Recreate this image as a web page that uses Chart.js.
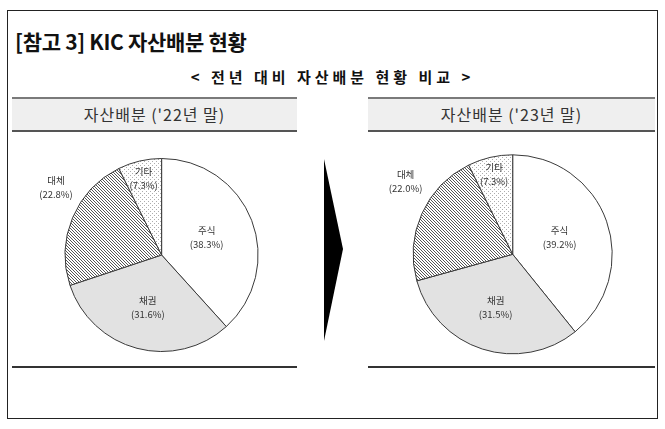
<!DOCTYPE html>
<html>
<head>
<meta charset="utf-8">
<script src="https://cdn.jsdelivr.net/npm/chart.js@4"></script>
<style>
  body { margin: 0; background: #fff; font-family: "Noto Sans CJK KR", sans-serif; }
  #page { position: relative; width: 665px; height: 429px; overflow: hidden; }
  .frame { position: absolute; left: 7px; top: 10px; width: 649px; height: 407px; border: 1.5px solid #222; }
  .title { position: absolute; left: 15px; top: 26px; font-size: 21px; font-weight: bold; color: #111; letter-spacing: -0.3px; }
  .subtitle { position: absolute; left: 0; width: 665px; top: 66px; text-align: center; font-size: 15px; font-weight: bold; color: #111; letter-spacing: 4px; }
  .band { position: absolute; top: 97px; height: 31px; background: #efefef; border-top: 2px solid #7a7a7a; border-bottom: 2px solid #555;
          text-align: center; line-height: 31px; font-size: 16px; color: #333; letter-spacing: 1px; white-space: pre; }
  .rule { position: absolute; top: 366px; height: 2px; background: #333; }
  canvas { position: absolute; }
  #arrow { position: absolute; left: 318px; top: 155px; }
</style>
</head>
<body>
<div id="page">
  <div class="frame"></div>
  <div class="title">[참고 3] KIC 자산배분 현황</div>
  <div class="subtitle">&lt; 전년 대비 자산배분 현황 비교 &gt;</div>
  <div class="band" style="left:12px;width:285px">자산배분 ('22년 말)</div>
  <div class="band" style="left:368px;width:287px">자산배분 ('23년 말)</div>
  <div class="rule" style="left:12px;width:285px"></div>
  <div class="rule" style="left:368px;width:287px"></div>
  <svg id="arrow" width="30" height="190"><polygon points="6,4 25,94 6,186" fill="#000"/></svg>
  <div style="position:absolute;left:20px;top:145px;width:280px;height:220px"><canvas id="pie22"></canvas></div>
  <div style="position:absolute;left:370px;top:145px;width:280px;height:220px"><canvas id="pie23"></canvas></div>
</div>
<script>
const categories = ['주식', '채권', '대체', '기타'];
const share2022 = [38.3, 31.6, 22.8, 7.3];
const share2023 = [39.2, 31.5, 22.0, 7.3];

// label placement per category: distance from centre (x radius) and angle nudge (deg)
const labelRadius = [0.5, 0.56, 1.3, 0.82];
const labelNudge = [0, 0, 10, 0];

function hatch() {
    const c = document.createElement('canvas');
    c.width = 3; c.height = 3;
    const g = c.getContext('2d');
    g.fillStyle = '#fff';
    g.fillRect(0, 0, 3, 3);
    g.fillStyle = '#555';
    g.fillRect(0, 0, 1, 1);
    g.fillRect(1, 1, 1, 1);
    g.fillRect(2, 2, 1, 1);
    return g.createPattern(c, 'repeat');
}

function dots() {
    const c = document.createElement('canvas');
    c.width = 4; c.height = 4;
    const g = c.getContext('2d');
    g.fillStyle = '#fff';
    g.fillRect(0, 0, 4, 4);
    g.fillStyle = '#adadad';
    g.fillRect(0, 0, 1, 1);
    g.fillRect(2, 2, 1, 1);
    return g.createPattern(c, 'repeat');
}

const fills = ['#ffffff', '#e2e2e2', hatch(), dots()];

const sliceLabels = {
    id: 'sliceLabels',
    afterDatasetsDraw(chart) {
        const { ctx } = chart;
        const meta = chart.getDatasetMeta(0);
        const values = chart.data.datasets[0].data;
        ctx.save();
        ctx.font = '9.5px "Noto Sans CJK KR", sans-serif';
        ctx.fillStyle = '#333';
        ctx.textAlign = 'center';
        ctx.textBaseline = 'middle';
        meta.data.forEach((arc, i) => {
            const a = (arc.startAngle + arc.endAngle) / 2 + labelNudge[i] * Math.PI / 180;
            const r = arc.outerRadius * labelRadius[i];
            const x = arc.x + Math.cos(a) * r;
            const y = arc.y + Math.sin(a) * r;
            ctx.fillText(chart.data.labels[i], x, y - 7);
            ctx.fillText('(' + values[i].toFixed(1) + '%)', x, y + 7);
        });
        ctx.restore();
    }
};

function pie(id, values, cx, cy, radius) {
    const w = 280, h = 220;
    return new Chart(document.getElementById(id), {
        type: 'pie',
        data: {
            labels: categories,
            datasets: [{
                data: values,
                backgroundColor: fills,
                borderColor: '#3a3a3a',
                borderWidth: 1
            }]
        },
        options: {
            responsive: true,
            maintainAspectRatio: false,
            animation: false,
            layout: {
                padding: { left: cx - radius, right: w - cx - radius, top: cy - radius, bottom: h - cy - radius }
            },
            plugins: { legend: { display: false }, tooltip: { enabled: false } }
        },
        plugins: [sliceLabels]
    });
}

pie('pie22', share2022, 141.6, 110, 97);
pie('pie23', share2023, 142.7, 109.3, 100);
</script>
</body>
</html>
